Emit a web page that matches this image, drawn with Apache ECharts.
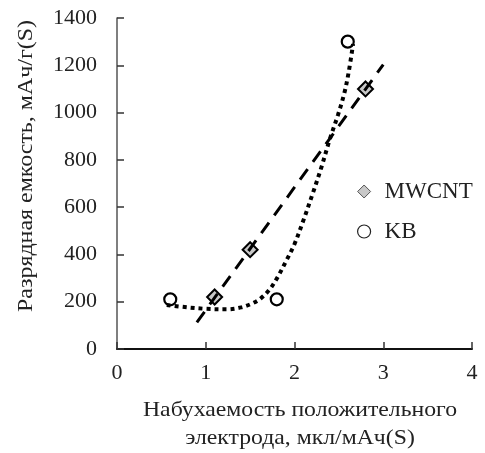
<!DOCTYPE html>
<html>
<head>
<meta charset="utf-8">
<script src="https://cdn.jsdelivr.net/npm/echarts@6/dist/echarts.min.js"></script>
<style>html,body{margin:0;padding:0;background:#fff}#c{width:485px;height:453px}</style>
</head>
<body>
<div id="c"></div>
<script>
// ---- data ----
const xTicks = [0, 1, 2, 3, 4];
const yTicks = [0, 200, 400, 600, 800, 1000, 1200, 1400];
const mwX = [1.1, 1.5, 2.8];
const mwY = [220, 420, 1100];
const kbX = [0.6, 1.8, 2.6];
const kbY = [210, 210, 1300];
// linear trendline range for MWCNT (forecast back/forward)
const mwTrendRange = [0.9, 3.0];
// KB dotted trend curve
const kbCurveX = [0.56, 0.8, 1.0, 1.24, 1.4, 1.52, 1.62, 1.72, 1.81, 1.9, 2.0, 2.1, 2.2, 2.3, 2.4, 2.49, 2.56, 2.61, 2.66];
const kbCurveY = [186, 176, 170, 168, 176, 192, 214, 252, 304, 368, 444, 544, 652, 765, 890, 990, 1080, 1170, 1290];

// linear regression for MWCNT trendline
const n = mwX.length;
const mx = mwX.reduce((a, b) => a + b, 0) / n;
const my = mwY.reduce((a, b) => a + b, 0) / n;
let sxy = 0, sxx = 0;
for (let i = 0; i < n; i++) { sxy += (mwX[i] - mx) * (mwY[i] - my); sxx += (mwX[i] - mx) ** 2; }
const slope = sxy / sxx, icpt = my - slope * mx;
const mwTrend = mwTrendRange.map(x => [x, slope * x + icpt]);

const font = '"Liberation Serif","Times New Roman",serif';
const chart = echarts.init(document.getElementById('c'), null, {renderer: 'canvas'});
chart.setOption({
  animation: false,
  backgroundColor: '#fff',
  grid: {left: 117, top: 18, right: 13, bottom: 104, containLabel: false},
  xAxis: {
    type: 'value', min: xTicks[0], max: xTicks[xTicks.length - 1], interval: 1,
    splitLine: {show: false},
    axisLine: {lineStyle: {color: '#111', width: 2}},
    axisTick: {inside: true, length: 7, lineStyle: {color: '#333', width: 1.5}},
    axisLabel: {fontFamily: font, fontSize: 22, color: '#222', margin: 13, formatter: v => String(v)}
  },
  yAxis: {
    type: 'value', min: yTicks[0], max: yTicks[yTicks.length - 1], interval: 200,
    splitLine: {show: false},
    axisLine: {show: true, lineStyle: {color: '#555', width: 1.5}},
    axisTick: {show: true, inside: true, length: 7, lineStyle: {color: '#333', width: 1.5}},
    axisLabel: {fontFamily: font, fontSize: 22, color: '#222', margin: 20, formatter: v => String(v)}
  },
  legend: {
    orient: 'vertical', left: 352, top: 175, itemGap: 17,
    itemWidth: 13, itemHeight: 13,
    textStyle: {fontFamily: font, fontSize: 23, color: '#222', padding: [0, 0, 0, 9]},
    data: [
      {name: 'MWCNT', icon: 'diamond', itemStyle: {color: '#c8c8c8', borderColor: '#555', borderWidth: 1}},
      {name: 'KB', icon: 'circle', itemStyle: {color: '#fff', borderColor: '#222', borderWidth: 1.2}}
    ]
  },
  graphic: [
    {type: 'text', x: 300, y: 396, scaleX: 1.13, style: {text: 'Набухаемость положительного\nэлектрода, мкл/мАч(S)', font: '21px ' + font, fill: '#222', textAlign: 'center', lineHeight: 28}},
    {type: 'text', x: 26, y: 166, rotation: Math.PI / 2, scaleX: 1.14, style: {text: 'Разрядная емкость, мАч/г(S)', font: '21px ' + font, fill: '#222', textAlign: 'center', textVerticalAlign: 'middle'}}
  ],
  series: [
    {name: 'MWCNT', type: 'scatter', symbol: 'diamond', symbolSize: 15, z: 2,
     itemStyle: {color: '#c8c8c8', borderColor: '#000', borderWidth: 2, opacity: 1},
     data: mwX.map((x, i) => [x, mwY[i]])},
    {name: 'KB', type: 'scatter', symbol: 'circle', symbolSize: 12, z: 2,
     itemStyle: {color: '#fff', borderColor: '#000', borderWidth: 2.2, opacity: 1},
     data: kbX.map((x, i) => [x, kbY[i]])},
    {name: 'mwTrend', type: 'line', showSymbol: false, z: 3, silent: true,
     lineStyle: {color: '#000', width: 3, type: [13, 9]},
     data: mwTrend},
    {name: 'kbTrend', type: 'line', showSymbol: false, smooth: 0.35, z: 3, silent: true,
     lineStyle: {color: '#000', width: 4, type: [4, 4], cap: 'butt'},
     data: kbCurveX.map((x, i) => [x, kbCurveY[i]])}
  ]
});
</script>
</body>
</html>
